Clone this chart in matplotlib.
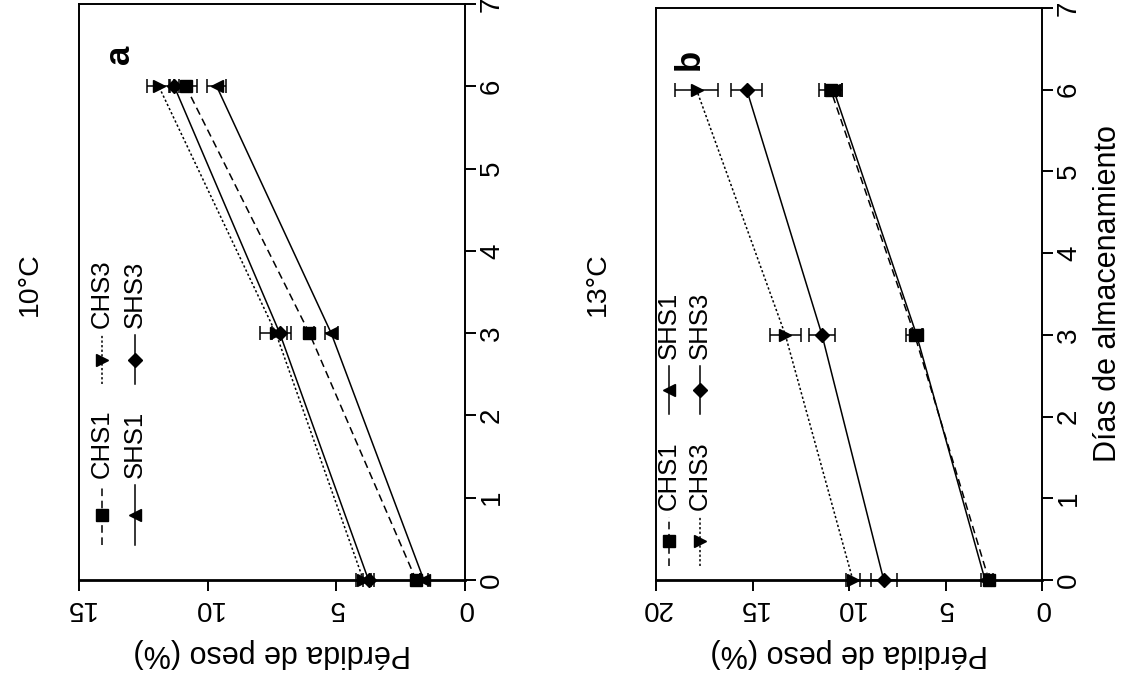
import matplotlib
matplotlib.use('Agg')
import matplotlib.pyplot as plt

plt.rcParams['font.family'] = ['Liberation Sans', 'DejaVu Sans']

# ---------------- data ----------------
dias = [0, 3, 6]
dias_ticks = [0, 1, 2, 3, 4, 5, 6, 7]

# 10 °C  (panel a)
a_chs1 = [1.9, 6.05, 10.85]
a_chs1_err = [0.15, 0.2, 0.45]
a_chs3 = [3.95, 7.35, 11.9]
a_chs3_err = [0.3, 0.6, 0.45]
a_shs1 = [1.6, 5.2, 9.65]
a_shs1_err = [0.15, 0.25, 0.37]
a_shs3 = [3.75, 7.2, 11.3]
a_shs3_err = [0.2, 0.3, 0.2]
a_ticks = [0, 5, 10, 15]

# 13 °C  (panel b)
b_chs1 = [2.75, 6.6, 10.95]
b_chs1_err = [0.2, 0.45, 0.6]
b_chs3 = [9.8, 13.3, 17.9]
b_chs3_err = [0.36, 0.8, 1.1]
b_shs1 = [2.95, 6.5, 10.8]
b_shs1_err = [0.2, 0.3, 0.45]
b_shs3 = [8.2, 11.4, 15.3]
b_shs3_err = [0.67, 0.65, 0.8]
b_ticks = [0, 5, 10, 15, 20]

labels = ['CHS1', 'CHS3', 'SHS1', 'SHS3']
styles = {
    'CHS1': dict(ls=(0, (5, 3)), marker='s', ms=8.5),
    'CHS3': dict(ls=(0, (1.5, 1.5)), marker='>', ms=8.5),
    'SHS1': dict(ls='-', marker='<', ms=8.5),
    'SHS3': dict(ls='-', marker='D', ms=7.5),
}

W, H = 1125, 689
fig = plt.figure(figsize=(W / 100, H / 100), dpi=100)

LW = 1.4
TICK_FS = 20
LAB_FS = 22
LEG_FS = 18.5


def draw_panel(ax, series, errs, xmax, xticks):
    for lab, vals, err in zip(labels, series, errs):
        st = styles[lab]
        ax.errorbar(vals, dias, xerr=err, color='black', ecolor='black',
                    ls=st['ls'], marker=st['marker'], ms=st['ms'],
                    lw=1.1, elinewidth=1.1, capsize=5, capthick=1.1,
                    clip_on=False, zorder=3)
    ax.set_xlim(xmax, 0)
    ax.set_ylim(0, 7)
    ax.set_xticks(xticks)
    ax.set_yticks(dias_ticks)
    ax.yaxis.tick_right()
    ax.tick_params(axis='both', direction='out', length=8, width=LW,
                   labelsize=TICK_FS)
    ax.tick_params(axis='x', labelrotation=180, pad=3)
    ax.tick_params(axis='y', labelrotation=90, pad=2)
    for t in ax.get_yticklabels():
        t.set_va('center')
        t.set_ha('left')
    for s in ax.spines.values():
        s.set_linewidth(LW)
    ax.spines['bottom'].set_linewidth(2.0)
    ax.set_xlabel('Pérdida de peso (%)', rotation=180, fontsize=LAB_FS,
                  labelpad=12)


def legend_entry(ax, x, y0, y1, lab, gap=0.012):
    st = styles[lab]
    ax.plot([x, x], [y0, y1], transform=ax.transAxes, color='black',
            ls=st['ls'], lw=1.1, clip_on=False)
    ax.plot([x], [(y0 + y1) / 2], transform=ax.transAxes, color='black',
            marker=st['marker'], ms=st['ms'], ls='none', clip_on=False)
    ax.text(x, y1 + gap, lab, rotation=90, ha='center', va='bottom',
            fontsize=LEG_FS, transform=ax.transAxes)


axa = fig.add_axes([79 / W, (H - 580) / H, 386 / W, 576 / H])
axb = fig.add_axes([656 / W, (H - 580) / H, 386 / W, 572 / H])

draw_panel(axa, [a_chs1, a_chs3, a_shs1, a_shs3],
           [a_chs1_err, a_chs3_err, a_shs1_err, a_shs3_err], 15, a_ticks)
draw_panel(axb, [b_chs1, b_chs3, b_shs1, b_shs3],
           [b_chs1_err, b_chs3_err, b_shs1_err, b_shs3_err], 20, b_ticks)

axb.yaxis.set_label_position('right')
axb.set_ylabel('Días de almacenamiento', rotation=90, fontsize=LAB_FS,
               labelpad=8)

# legends (rotated)
legend_entry(axa, 0.06, 0.06, 0.165, 'CHS1')
legend_entry(axa, 0.06, 0.34, 0.425, 'CHS3')
legend_entry(axa, 0.145, 0.06, 0.165, 'SHS1')
legend_entry(axa, 0.145, 0.34, 0.425, 'SHS3')

legend_entry(axb, 0.034, 0.025, 0.11, 'CHS1')
legend_entry(axb, 0.034, 0.29, 0.375, 'SHS1')
legend_entry(axb, 0.114, 0.025, 0.11, 'CHS3')
legend_entry(axb, 0.114, 0.29, 0.375, 'SHS3')

# panel letters
axa.text(0.105, 0.912, 'a', rotation=90, ha='center', va='center',
         fontsize=25, fontweight='bold', transform=axa.transAxes)
axb.text(0.085, 0.91, 'b', rotation=90, ha='center', va='center',
         fontsize=25, fontweight='bold', transform=axb.transAxes)

# titles
fig.text(30 / W, 1 - 284 / H, '10°C', rotation=90, ha='center',
         va='center', fontsize=20.5)
fig.text(598 / W, 1 - 284 / H, '13°C', rotation=90, ha='center',
         va='center', fontsize=20.5)

fig.savefig('out.png', dpi=100)
